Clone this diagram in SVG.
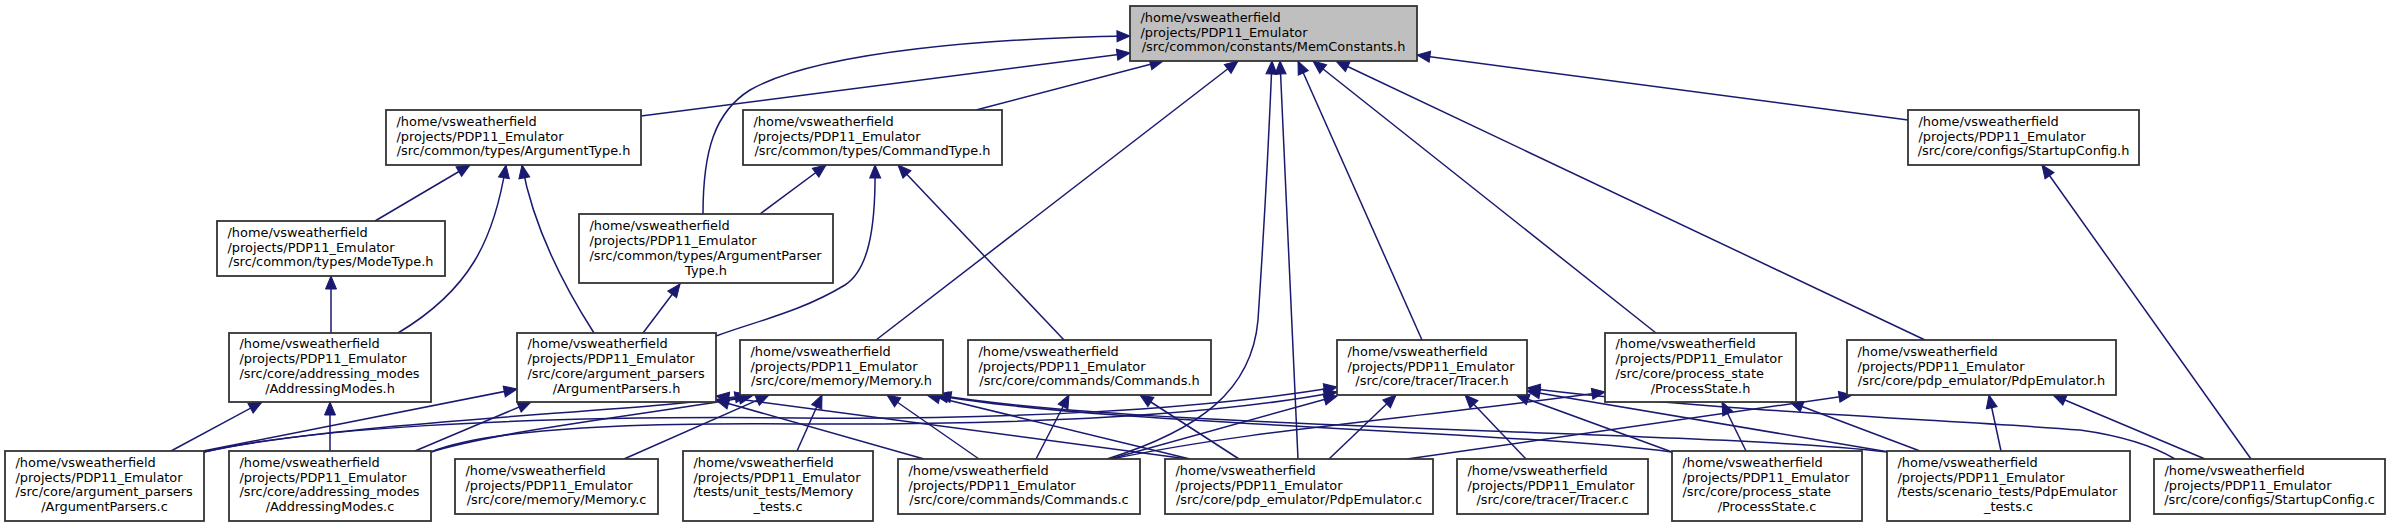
<svg xmlns="http://www.w3.org/2000/svg" width="2391" height="527" viewBox="0 0 2391 527">
<style>
.n rect{fill:#ffffff;stroke:#333333;stroke-width:1.8}
.m rect{fill:#bfbfbf}
text{font-family:"DejaVu Sans","Liberation Sans",sans-serif;font-size:12.9px;fill:#000}
.c{text-anchor:middle}
.e path{fill:none;stroke:#191970;stroke-width:1.5;marker-start:url(#ah)}
</style>
<defs>
<marker id="ah" markerUnits="userSpaceOnUse" markerWidth="14" markerHeight="12" refX="0" refY="6" orient="auto" overflow="visible"><path d="M0,6 L13,0.5 L13,11.5 Z" fill="#191970" stroke="#191970" stroke-width="1"/></marker>
</defs>
<rect x="0" y="0" width="2391" height="527" fill="#ffffff"/>
<g id="edges" class="e">
<path d="M1130,53 L641,116"/>
<path d="M1130,36 C1000,38 820,50 750,90 C715,112 703,150 703,214"/>
<path d="M1163,61 L976,110"/>
<path d="M1417,55 L1908,120"/>
<path d="M1238,61 L876,340"/>
<path d="M1298,61 L1422,340"/>
<path d="M1313,61 L1656,333"/>
<path d="M1336,61 L1925,340"/>
<path d="M1272,61 C1268,160 1262,260 1258,320 C1252,390 1200,430 1107,459"/>
<path d="M1280,61 L1298,459"/>
<path d="M470,165 L375,221"/>
<path d="M506,165 C494,240 470,290 398,333"/>
<path d="M522,165 C532,220 560,280 594,333"/>
<path d="M826,165 L760,214"/>
<path d="M875,165 C876,230 868,270 845,285 C800,312 760,320 716,336"/>
<path d="M898,165 L1064,340"/>
<path d="M331,276 L331,333"/>
<path d="M680,284 L643,333"/>
<path d="M2042,165 L2251,459"/>
<path d="M262,402 L171,451"/>
<path d="M330,402 L330,451"/>
<path d="M517,389 L203,451"/>
<path d="M531,402 L415,451"/>
<path d="M716,400 L924,459"/>
<path d="M716,396 L1188,459"/>
<path d="M748,395 C650,412 350,420 204,452"/>
<path d="M752,396 C680,410 500,430 431,452"/>
<path d="M769,395 L624,459"/>
<path d="M822,395 L797,451"/>
<path d="M887,395 L979,459"/>
<path d="M927,395 L1190,459"/>
<path d="M935,395 C1100,425 1500,430 1672,452"/>
<path d="M938,395 C1150,430 1700,430 1888,452"/>
<path d="M1069,395 L1036,459"/>
<path d="M1140,395 L1239,459"/>
<path d="M1337,387 C1200,410 1000,420 800,418 C500,415 300,430 204,452"/>
<path d="M1337,392 C1200,418 1000,425 800,424 C600,422 480,432 431,452"/>
<path d="M1337,396 L1110,459"/>
<path d="M1605,392 C1400,420 1250,430 1112,459"/>
<path d="M1396,395 L1329,459"/>
<path d="M1465,395 L1526,459"/>
<path d="M1516,395 L1672,452"/>
<path d="M1527,391 L1889,452"/>
<path d="M1527,388 C1700,410 1950,420 2080,430 C2130,437 2160,450 2175,459"/>
<path d="M1722,402 L1746,451"/>
<path d="M1790,402 L1920,451"/>
<path d="M1852,395 L1407,459"/>
<path d="M1989,395 L2001,451"/>
<path d="M2053,395 L2205,459"/>
</g>
<g id="MemConstants_h" class="n m"><rect x="1130" y="6" width="287" height="55"/><text><tspan x="1140.5" y="21.7">/home/vsweatherfield</tspan><tspan x="1140.5" y="36.5">/projects/PDP11_Emulator</tspan><tspan class="c" x="1273.5" y="51.3">/src/common/constants/MemConstants.h</tspan></text></g>
<g id="ArgumentType_h" class="n"><rect x="386" y="110" width="255" height="55"/><text><tspan x="396.5" y="125.7">/home/vsweatherfield</tspan><tspan x="396.5" y="140.5">/projects/PDP11_Emulator</tspan><tspan class="c" x="513.5" y="155.3">/src/common/types/ArgumentType.h</tspan></text></g>
<g id="CommandType_h" class="n"><rect x="743" y="110" width="259" height="55"/><text><tspan x="753.5" y="125.7">/home/vsweatherfield</tspan><tspan x="753.5" y="140.5">/projects/PDP11_Emulator</tspan><tspan class="c" x="872.5" y="155.3">/src/common/types/CommandType.h</tspan></text></g>
<g id="StartupConfig_h" class="n"><rect x="1908" y="110" width="231" height="55"/><text><tspan x="1918.5" y="125.7">/home/vsweatherfield</tspan><tspan x="1918.5" y="140.5">/projects/PDP11_Emulator</tspan><tspan class="c" x="2023.5" y="155.3">/src/core/configs/StartupConfig.h</tspan></text></g>
<g id="ModeType_h" class="n"><rect x="217" y="221" width="228" height="55"/><text><tspan x="227.5" y="236.7">/home/vsweatherfield</tspan><tspan x="227.5" y="251.5">/projects/PDP11_Emulator</tspan><tspan class="c" x="331" y="266.3">/src/common/types/ModeType.h</tspan></text></g>
<g id="ArgumentParserType_h" class="n"><rect x="579" y="214" width="254" height="69"/><text><tspan x="589.5" y="230.3">/home/vsweatherfield</tspan><tspan x="589.5" y="245.1">/projects/PDP11_Emulator</tspan><tspan x="589.5" y="259.9">/src/common/types/ArgumentParser</tspan><tspan class="c" x="706" y="274.7">Type.h</tspan></text></g>
<g id="AddressingModes_h" class="n"><rect x="229" y="333" width="202" height="69"/><text><tspan x="239.5" y="348.3">/home/vsweatherfield</tspan><tspan x="239.5" y="363.1">/projects/PDP11_Emulator</tspan><tspan x="239.5" y="377.9">/src/core/addressing_modes</tspan><tspan class="c" x="330" y="392.7">/AddressingModes.h</tspan></text></g>
<g id="ArgumentParsers_h" class="n"><rect x="517" y="333" width="199" height="69"/><text><tspan x="527.5" y="348.3">/home/vsweatherfield</tspan><tspan x="527.5" y="363.1">/projects/PDP11_Emulator</tspan><tspan x="527.5" y="377.9">/src/core/argument_parsers</tspan><tspan class="c" x="616.5" y="392.7">/ArgumentParsers.h</tspan></text></g>
<g id="Memory_h" class="n"><rect x="740" y="340" width="203" height="55"/><text><tspan x="750.5" y="355.7">/home/vsweatherfield</tspan><tspan x="750.5" y="370.5">/projects/PDP11_Emulator</tspan><tspan class="c" x="841.5" y="385.3">/src/core/memory/Memory.h</tspan></text></g>
<g id="Commands_h" class="n"><rect x="968" y="340" width="243" height="55"/><text><tspan x="978.5" y="355.7">/home/vsweatherfield</tspan><tspan x="978.5" y="370.5">/projects/PDP11_Emulator</tspan><tspan class="c" x="1089.5" y="385.3">/src/core/commands/Commands.h</tspan></text></g>
<g id="Tracer_h" class="n"><rect x="1337" y="340" width="190" height="55"/><text><tspan x="1347.5" y="355.7">/home/vsweatherfield</tspan><tspan x="1347.5" y="370.5">/projects/PDP11_Emulator</tspan><tspan class="c" x="1432" y="385.3">/src/core/tracer/Tracer.h</tspan></text></g>
<g id="ProcessState_h" class="n"><rect x="1605" y="333" width="191" height="69"/><text><tspan x="1615.5" y="348.3">/home/vsweatherfield</tspan><tspan x="1615.5" y="363.1">/projects/PDP11_Emulator</tspan><tspan x="1615.5" y="377.9">/src/core/process_state</tspan><tspan class="c" x="1700.5" y="392.7">/ProcessState.h</tspan></text></g>
<g id="PdpEmulator_h" class="n"><rect x="1847" y="340" width="269" height="55"/><text><tspan x="1857.5" y="355.7">/home/vsweatherfield</tspan><tspan x="1857.5" y="370.5">/projects/PDP11_Emulator</tspan><tspan class="c" x="1981.5" y="385.3">/src/core/pdp_emulator/PdpEmulator.h</tspan></text></g>
<g id="ArgumentParsers_c" class="n"><rect x="5" y="451" width="199" height="70"/><text><tspan x="15.5" y="466.8">/home/vsweatherfield</tspan><tspan x="15.5" y="481.6">/projects/PDP11_Emulator</tspan><tspan x="15.5" y="496.4">/src/core/argument_parsers</tspan><tspan class="c" x="104.5" y="511.2">/ArgumentParsers.c</tspan></text></g>
<g id="AddressingModes_c" class="n"><rect x="229" y="451" width="202" height="70"/><text><tspan x="239.5" y="466.8">/home/vsweatherfield</tspan><tspan x="239.5" y="481.6">/projects/PDP11_Emulator</tspan><tspan x="239.5" y="496.4">/src/core/addressing_modes</tspan><tspan class="c" x="330" y="511.2">/AddressingModes.c</tspan></text></g>
<g id="Memory_c" class="n"><rect x="455" y="459" width="203" height="55"/><text><tspan x="465.5" y="474.7">/home/vsweatherfield</tspan><tspan x="465.5" y="489.5">/projects/PDP11_Emulator</tspan><tspan class="c" x="556.5" y="504.3">/src/core/memory/Memory.c</tspan></text></g>
<g id="Memory_tests_c" class="n"><rect x="683" y="451" width="190" height="70"/><text><tspan x="693.5" y="466.8">/home/vsweatherfield</tspan><tspan x="693.5" y="481.6">/projects/PDP11_Emulator</tspan><tspan x="693.5" y="496.4">/tests/unit_tests/Memory</tspan><tspan class="c" x="778" y="511.2">_tests.c</tspan></text></g>
<g id="Commands_c" class="n"><rect x="898" y="459" width="242" height="55"/><text><tspan x="908.5" y="474.7">/home/vsweatherfield</tspan><tspan x="908.5" y="489.5">/projects/PDP11_Emulator</tspan><tspan class="c" x="1019" y="504.3">/src/core/commands/Commands.c</tspan></text></g>
<g id="PdpEmulator_c" class="n"><rect x="1165" y="459" width="268" height="55"/><text><tspan x="1175.5" y="474.7">/home/vsweatherfield</tspan><tspan x="1175.5" y="489.5">/projects/PDP11_Emulator</tspan><tspan class="c" x="1299" y="504.3">/src/core/pdp_emulator/PdpEmulator.c</tspan></text></g>
<g id="Tracer_c" class="n"><rect x="1457" y="459" width="191" height="55"/><text><tspan x="1467.5" y="474.7">/home/vsweatherfield</tspan><tspan x="1467.5" y="489.5">/projects/PDP11_Emulator</tspan><tspan class="c" x="1552.5" y="504.3">/src/core/tracer/Tracer.c</tspan></text></g>
<g id="ProcessState_c" class="n"><rect x="1672" y="451" width="190" height="70"/><text><tspan x="1682.5" y="466.8">/home/vsweatherfield</tspan><tspan x="1682.5" y="481.6">/projects/PDP11_Emulator</tspan><tspan x="1682.5" y="496.4">/src/core/process_state</tspan><tspan class="c" x="1767" y="511.2">/ProcessState.c</tspan></text></g>
<g id="PdpEmulator_tests_c" class="n"><rect x="1887" y="451" width="243" height="70"/><text><tspan x="1897.5" y="466.8">/home/vsweatherfield</tspan><tspan x="1897.5" y="481.6">/projects/PDP11_Emulator</tspan><tspan x="1897.5" y="496.4">/tests/scenario_tests/PdpEmulator</tspan><tspan class="c" x="2008.5" y="511.2">_tests.c</tspan></text></g>
<g id="StartupConfig_c" class="n"><rect x="2154" y="459" width="231" height="55"/><text><tspan x="2164.5" y="474.7">/home/vsweatherfield</tspan><tspan x="2164.5" y="489.5">/projects/PDP11_Emulator</tspan><tspan class="c" x="2269.5" y="504.3">/src/core/configs/StartupConfig.c</tspan></text></g>
</svg>
